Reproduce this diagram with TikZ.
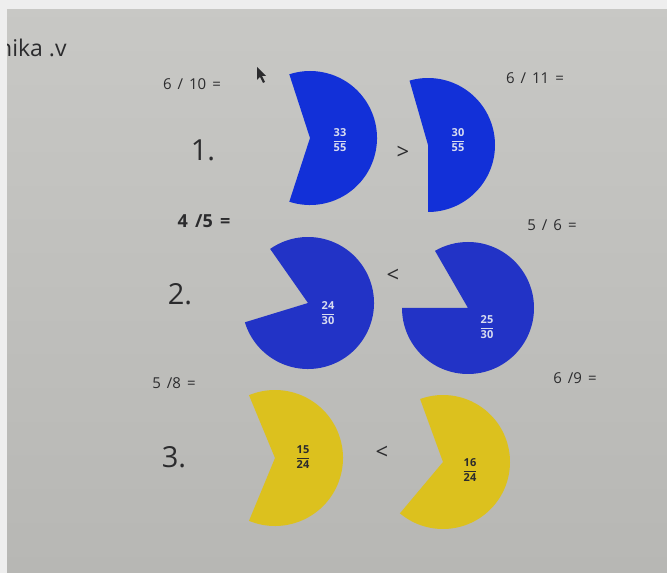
\documentclass[tikz,border=0pt]{standalone}
\usepackage{amsmath}
\usepackage{fontspec}
\setmainfont{Open Sans}
\usetikzlibrary{positioning}
\definecolor{screentop}{HTML}{C8C8C5}
\definecolor{screenbot}{HTML}{B7B7B4}
\definecolor{frame}{HTML}{EEEEEE}
\definecolor{ink}{HTML}{2B2B2D}
\definecolor{pieblue}{HTML}{1230D8}
\definecolor{piebluedark}{HTML}{2233C6}
\definecolor{pieyellow}{HTML}{DCC11E}
\definecolor{fracwhite}{HTML}{D8DCF0}
\newcommand\pfrac[2]{$\dfrac{\text{#1}}{\text{#2}}$}
\newcommand\gap{\hspace{0.4em}}
\tikzset{
  every node/.style={text=ink,inner sep=0pt},
  bluepie/.style={fill=pieblue},
  bluepiedark/.style={fill=piebluedark},
  yellowpie/.style={fill=pieyellow},
  fraclbl/.style={font=\fontsize{11}{12}\selectfont\bfseries,text=fracwhite},
  fracdark/.style={fraclbl,text=ink},
  eqlbl/.style={font=\fontsize{15}{16}\selectfont},
  rowlbl/.style={font=\fontsize{29}{32}\selectfont},
  cmp/.style={font=\fontsize{22}{22}\selectfont}
}
\begin{document}
\begin{tikzpicture}[x=1pt,y=1pt]
  \useasboundingbox (0,0) rectangle (667,573);
  % screen photo
  \shade[top color=screentop,bottom color=screenbot] (0,0) rectangle (667,573);

  % row 1: 6/10 and 6/11
  \coordinate (p1a) at (310,435);
  \coordinate (p1b) at (428,428);
  \fill[bluepie] (p1a) -- ++(-108:67) arc[start angle=-108,end angle=108,radius=67] -- cycle;
  \fill[bluepie] (p1b) -- ++(-90:67) arc[start angle=-90,end angle=106,radius=67] -- cycle;
  \node[fraclbl] (f1a) at (340,433) {\pfrac{33}{55}};
  \node[fraclbl] (f1b) at (458,433) {\pfrac{30}{55}};
  \node[cmp] (c1) at (403,420) {>};

  % row 2: 4/5 and 5/6
  \coordinate (p2a) at (308,270);
  \coordinate (p2b) at (468,265);
  \fill[bluepiedark] (p2a) -- ++(-163:66) arc[start angle=-163,end angle=125,radius=66] -- cycle;
  \fill[bluepiedark] (p2b) -- ++(-180:66) arc[start angle=-180,end angle=120,radius=66] -- cycle;
  \node[fraclbl] (f2a) at (328,260) {\pfrac{24}{30}};
  \node[fraclbl] (f2b) at (487,246) {\pfrac{25}{30}};
  \node[cmp] (c2) at (393,297) {<};

  % row 3: 5/8 and 6/9
  \coordinate (p3a) at (275,115);
  \coordinate (p3b) at (443,111);
  \fill[yellowpie] (p3a) -- ++(-112.5:68) arc[start angle=-112.5,end angle=112.5,radius=68] -- cycle;
  \fill[yellowpie] (p3b) -- ++(-130:67) arc[start angle=-130,end angle=110,radius=67] -- cycle;
  \node[fracdark] (f3a) at (303,116) {\pfrac{15}{24}};
  \node[fracdark] (f3b) at (470,103) {\pfrac{16}{24}};
  \node[cmp] (c3) at (382,120) {<};

  % labels
  \node[eqlbl] (e1a) at (192,489) {6\gap/\gap10\gap=};
  \node[eqlbl] (e1b) at (535,495) {6\gap/\gap11\gap=};
  \node[eqlbl,font=\fontsize{18}{20}\selectfont\bfseries] (e2a) at (204,352) {4\gap/5\gap=};
  \node[eqlbl] (e2b) at (552,348) {5\gap/\gap6\gap=};
  \node[eqlbl] (e3a) at (174,190) {5\gap/8\gap=};
  \node[eqlbl] (e3b) at (575,195) {6\gap/9\gap=};
  \node[rowlbl] (r1) at (203,423) {1.};
  \node[rowlbl] (r2) at (180,279) {2.};
  \node[rowlbl] (r3) at (174,116) {3.};
  \node[font=\fontsize{23}{24}\selectfont,anchor=west] (title) at (-2,525) {nika .v};

  % mouse pointer
  \fill[ink] (257,506) -- (257,493) -- (260,496) -- (263,490) -- (265,491) -- (262,497) -- (266,497) -- cycle;

  % light frame round the photo
  \fill[frame] (0,564) rectangle (667,573);
  \fill[frame] (0,0) rectangle (7,573);
\end{tikzpicture}
\end{document}
